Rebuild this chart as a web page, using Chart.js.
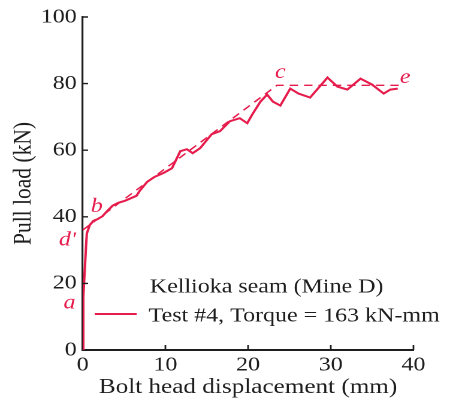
<!DOCTYPE html>
<html>
<head>
<meta charset="utf-8">
<script src="https://cdn.jsdelivr.net/npm/chart.js@4.4.1/dist/chart.umd.min.js"></script>
<style>
  html, body { margin: 0; padding: 0; background: #fff; overflow: hidden; }
  /* the figure is set in a slightly widened face, so the whole plot is drawn narrow and stretched */
  #wrap { width: 383px; height: 408px; transform: scaleX(1.1984); transform-origin: 0 0; }
</style>
</head>
<body>
<div id="wrap"><canvas id="pullChart"></canvas></div>
<script>
  // Pull test record: bolt head displacement (mm) vs pull load (kN)
  const dispMm = [0, 0.05, 0.1, 0.25, 0.4, 0.5, 0.85, 1.3, 1.8, 2.4, 3.0, 3.6, 4.3, 5.1, 6.5, 6.9,
    7.8, 8.7, 9.8, 10.8, 11.8, 12.6, 13.3, 14.2, 15.6, 16.6, 17.8, 19.0, 19.9, 20.5, 21.5,
    22.3, 23.0, 23.9, 25.1, 26.1, 27.5, 29.6, 30.8, 32.0, 33.6, 35.0, 36.4, 37.2, 38.1];
  const loadKn = [0, 8, 16, 24, 31, 35, 37.5, 38.8, 39.3, 40.2, 41.8, 43.3, 44.2, 44.8, 46.3, 47.8,
    50.5, 52.0, 53.2, 54.6, 59.7, 60.3, 59.1, 60.6, 64.8, 65.7, 68.7, 69.6, 68.1, 70.7, 74.6,
    76.7, 74.6, 73.4, 78.5, 77.0, 75.8, 81.8, 79.1, 78.2, 81.5, 79.7, 77.0, 78.2, 78.5];

  // bilinear idealisation d' -> c -> e
  const fitDisp = [0, 23.5, 38.5];
  const fitLoad = [36, 79.5, 79.5];

  const xTicks = [0, 10, 20, 30, 40];
  const yTicks = [0, 20, 40, 60, 80, 100];

  const pointNames = ['a', "d'", 'b', 'c', 'e'];
  const pointDisp = [-1.6, -1.85, 1.7, 23.9, 39.0];
  const pointLoad = [14, 33, 43, 83.2, 81.7];

  const legendTitle = 'Kellioka seam (Mine D)';
  const seriesLabel = 'Test #4, Torque = 163 kN-mm';

  const RED = '#e51c4c';
  const INK = '#1e1e1e';
  const FONT = "'Liberation Serif', 'Times New Roman', serif";

  Chart.defaults.font.family = FONT;
  Chart.defaults.font.size = 20;
  Chart.defaults.color = INK;

  // small tick marks pointing into the plot
  const innerTicks = {
    id: 'innerTicks',
    afterDraw(chart) {
      const { ctx, chartArea, scales: { x, y } } = chart;
      ctx.save();
      ctx.strokeStyle = INK;
      ctx.lineWidth = 1.4;
      ctx.beginPath();
      yTicks.slice(1).forEach(v => {
        const py = y.getPixelForValue(v);
        ctx.moveTo(chartArea.left, py);
        ctx.lineTo(chartArea.left + 4.5, py);
      });
      xTicks.slice(1).forEach(v => {
        const px = x.getPixelForValue(v);
        ctx.moveTo(px, chartArea.bottom);
        ctx.lineTo(px, chartArea.bottom - 5);
      });
      ctx.stroke();
      ctx.restore();
    }
  };

  // italic point letters and the legend box
  const notes = {
    id: 'notes',
    afterDraw(chart) {
      const { ctx, scales: { x, y } } = chart;
      ctx.save();
      ctx.font = 'italic 20px ' + FONT;
      ctx.fillStyle = RED;
      ctx.textAlign = 'center';
      ctx.textBaseline = 'middle';
      pointNames.forEach((t, i) => {
        ctx.fillText(t, x.getPixelForValue(pointDisp[i]), y.getPixelForValue(pointLoad[i]));
      });

      ctx.font = '20px ' + FONT;
      ctx.fillStyle = INK;
      ctx.textAlign = 'left';
      ctx.fillText(legendTitle, 125, 287);
      ctx.fillText(seriesLabel, 124, 316);

      ctx.strokeStyle = RED;
      ctx.lineWidth = 2;
      ctx.beginPath();
      ctx.moveTo(79, 314);
      ctx.lineTo(114, 314);
      ctx.stroke();
      ctx.restore();
    }
  };

  new Chart(document.getElementById('pullChart'), {
    type: 'line',
    data: {
      datasets: [
        {
          label: seriesLabel,
          data: dispMm.map((d, i) => ({ x: d, y: loadKn[i] })),
          borderColor: RED,
          borderWidth: 2,
          pointRadius: 0,
          tension: 0
        },
        {
          label: 'fit',
          data: fitDisp.map((d, i) => ({ x: d, y: fitLoad[i] })),
          borderColor: RED,
          borderWidth: 1.4,
          borderDash: [7, 5],
          pointRadius: 0,
          tension: 0
        }
      ]
    },
    options: {
      responsive: true,
      maintainAspectRatio: false,
      devicePixelRatio: 2,
      animation: false,
      layout: { padding: { top: 17, right: 38, bottom: 0, left: 0 } },
      plugins: {
        legend: { display: false },
        tooltip: { enabled: false }
      },
      scales: {
        x: {
          type: 'linear',
          min: 0,
          max: 40,
          afterBuildTicks: s => { s.ticks = xTicks.map(v => ({ value: v })); },
          afterFit: s => { s.height = 58; },
          ticks: { padding: 3, color: INK },
          grid: { display: false, drawTicks: false },
          border: { display: true, color: INK, width: 2 },
          title: {
            display: true,
            text: 'Bolt head displacement (mm)',
            color: INK,
            font: { size: 21 },
            padding: { top: 0, bottom: 8 }
          }
        },
        y: {
          min: 0,
          max: 100,
          afterBuildTicks: s => { s.ticks = yTicks.map(v => ({ value: v })); },
          afterFit: s => { s.width = 69; },
          ticks: { padding: 5, color: INK },
          grid: { display: false, drawTicks: false },
          border: { display: true, color: INK, width: 1.6 },
          title: {
            display: true,
            text: 'Pull load (kN)',
            color: INK,
            font: { size: 21.5 },
            padding: { top: 7, bottom: 0 }
          }
        }
      }
    },
    plugins: [innerTicks, notes]
  });
</script>
</body>
</html>
